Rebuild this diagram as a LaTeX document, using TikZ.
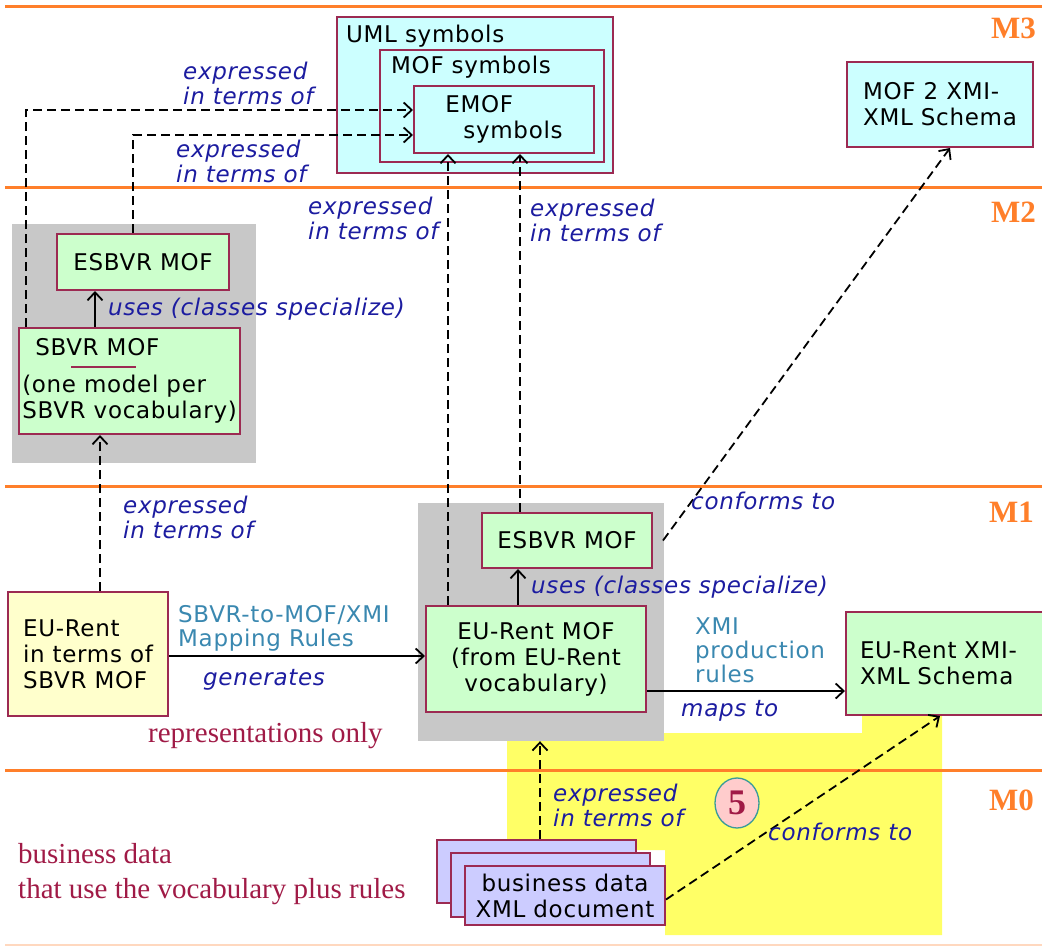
\documentclass[tikz,border=0pt]{standalone}
\usepackage{fontspec}
\setmainfont{DejaVu Sans}[LetterSpace=3]
\newfontfamily\slabfont{Liberation Serif}
\usetikzlibrary{arrows.meta,shapes.geometric}
\definecolor{levelorange}{HTML}{FF7F2A}
\definecolor{boxline}{HTML}{9C2A52}
\definecolor{symcyan}{HTML}{CCFFFF}
\definecolor{mofgreen}{HTML}{CCFFCC}
\definecolor{modelyellow}{HTML}{FFFFCC}
\definecolor{doclilac}{HTML}{CCCCFF}
\definecolor{groupgray}{HTML}{C8C8C8}
\definecolor{zoneyellow}{HTML}{FFFF66}
\definecolor{relblue}{HTML}{1C1CA0}
\definecolor{ruleteal}{HTML}{3A88B0}
\definecolor{notered}{HTML}{A01A46}
\definecolor{fivepink}{HTML}{FFCCCC}
\definecolor{fiveteal}{HTML}{3A9A9A}
\begin{document}
\begin{tikzpicture}[x=1pt,y=-1pt,>={Straight Barb[length=8pt,width=15pt]},
  every node/.style={inner sep=0pt,font=\fontsize{23}{26}\selectfont},
  level/.style={draw=levelorange,line width=3pt},
  levelname/.style={anchor=east,text=levelorange,font=\fontsize{31}{31}\slabfont\bfseries},
  box/.style={draw=boxline,line width=2pt,align=center},
  group/.style={fill=groupgray},
  relation/.style={text=relblue,align=left,font=\fontsize{23}{25}\selectfont\itshape},
  rulename/.style={text=ruleteal,align=left,font=\fontsize{23}{24}\selectfont},
  note/.style={text=notered,align=left,font=\fontsize{29}{35}\slabfont},
  link/.style={->,line width=1.8pt},
  reflink/.style={->,line width=1.8pt,dash pattern=on 9pt off 5pt}]
  \useasboundingbox (0,0) rectangle (1042,948);
  \fill[zoneyellow] (507,733) -- (862,733) -- (862,712) -- (942,712) -- (942,935)
    -- (665,935) -- (665,850) -- (507,850) -- cycle;
  \node[group,minimum width=244,minimum height=239] (grp2) at (134,343.5) {};
  \node[group,minimum width=246,minimum height=238] (grp1) at (541,622) {};
  \draw[level] (5,6) -- (1042,6);
  \draw[level] (5,187) -- (1042,187);
  \draw[level] (5,486) -- (1042,486);
  \draw[level] (5,770) -- (1042,770);
  \draw[levelorange!30,line width=1.5pt] (5,945) -- (1042,945);
  \node[levelname] (m3) at (1036,28) {M3};
  \node[levelname] (m2) at (1036,212) {M2};
  \node[levelname] (m1) at (1034,512) {M1};
  \node[levelname] (m0) at (1034,800) {M0};

  \node[box,fill=symcyan,minimum width=276,minimum height=156] (uml) at (475,95) {};
  \node[anchor=north west] (umlname) at ([shift={(10,8.5)}]uml.north west) {UML symbols};
  \node[box,fill=symcyan,minimum width=224,minimum height=112] (mof) at (492,106) {};
  \node[anchor=north west] (mofname) at ([shift={(12,6.5)}]mof.north west) {MOF symbols};
  \node[box,fill=symcyan,minimum width=180,minimum height=67,align=left] (emof) at (504,119.5)
    {EMOF\\\hspace*{18pt}symbols};
  \node[box,fill=symcyan,minimum width=186,minimum height=85,align=left] (mof2) at (940,104.5)
    {MOF 2 XMI-\\XML Schema};

  \node[box,fill=mofgreen,minimum width=172,minimum height=56] (esbvr2) at (143,262) {ESBVR MOF};
  \node[box,fill=mofgreen,minimum width=221,minimum height=106,align=left] (sbvr) at (129.5,381)
    {\hspace*{13pt}SBVR MOF\\[11pt](one model per\\SBVR vocabulary)};
  \draw[boxline,line width=2pt] ([shift={(53,40)}]sbvr.north west) -- ++(65,0);

  \node[box,fill=mofgreen,minimum width=170,minimum height=55] (esbvr1) at (567,540.5) {ESBVR MOF};
  \node[box,fill=mofgreen,minimum width=220,minimum height=106] (eurent) at (536,659)
    {EU-Rent MOF\\(from EU-Rent\\vocabulary)};
  \node[box,fill=modelyellow,minimum width=160,minimum height=124,align=left] (eusbvr) at (88,654)
    {EU-Rent\\in terms of\\SBVR MOF};
  \node[box,fill=mofgreen,minimum width=200,minimum height=103,text width=172,align=left] (euxmi)
    at (946,663.5) {EU-Rent XMI-\\XML Schema};

  \node[box,fill=doclilac,minimum width=199,minimum height=63] (docback) at (536.5,871.5) {};
  \node[box,fill=doclilac,minimum width=199,minimum height=64] (docmid) at (550.5,885) {};
  \node[box,fill=doclilac,minimum width=200,minimum height=59] (docfront) at (565,895.5)
    {business data\\XML document};
  \node[ellipse,draw=fiveteal,fill=fivepink,line width=1.3pt,minimum width=44,minimum height=50,
    text=notered,font=\fontsize{36}{36}\slabfont\bfseries] (five) at (737,803) {5};

  \draw[reflink] ([shift={(8,0)}]sbvr.north west) |- ([shift={(0,-9.5)}]emof.west);
  \draw[reflink] ([shift={(-10,0)}]esbvr2.north) |- ([shift={(0,15.5)}]emof.west);
  \draw[reflink] ([shift={(-88,0)}]eurent.north) -- ([shift={(-88,0)}]eurent.north |- emof.south);
  \draw[reflink] ([shift={(-47,0)}]esbvr1.north) -- ([shift={(-47,0)}]esbvr1.north |- emof.south);
  \draw[reflink] ([shift={(10,0)}]esbvr1.east) -- ([shift={(10,0)}]mof2.south);
  \draw[link] ([shift={(-34.5,0)}]sbvr.north) -- ([shift={(-34.5,0)}]sbvr.north |- esbvr2.south);
  \draw[link] ([shift={(-18,0)}]eurent.north) -- ([shift={(-18,0)}]eurent.north |- esbvr1.south);
  \draw[reflink] ([shift={(12,0)}]eusbvr.north) -- ([shift={(12,0)}]eusbvr.north |- sbvr.south);
  \draw[link] ([shift={(0,2)}]eusbvr.east) -- ([shift={(0,2)}]eusbvr.east -| eurent.west);
  \draw[link] ([shift={(0,32)}]eurent.east) -- ([shift={(0,32)}]eurent.east -| euxmi.west);
  \draw[reflink] ([shift={(3.5,0)}]docback.north) -- ([shift={(3.5,0)}]docback.north |- grp1.south);
  \draw[reflink] ([shift={(0,4)}]docfront.east) -- ([shift={(-6,0)}]euxmi.south);

  \node[relation,anchor=north west] (rel1) at (183,62) {expressed\\in terms of};
  \node[relation,anchor=north west] (rel2) at (176,140) {expressed\\in terms of};
  \node[relation,anchor=north west] (rel3) at (308,197) {expressed\\in terms of};
  \node[relation,anchor=north west] (rel4) at (530,199) {expressed\\in terms of};
  \node[relation,anchor=north west] (rel5) at (123,496) {expressed\\in terms of};
  \node[relation,anchor=north west] (rel6) at (553,784) {expressed\\in terms of};
  \node[relation,anchor=west] (uses2) at (108,309) {uses (classes specialize)};
  \node[relation,anchor=west] (uses1) at (531,587) {uses (classes specialize)};
  \node[relation,anchor=west] (conf1) at (691,501) {conforms to};
  \node[relation,anchor=west] (conf0) at (768,832) {conforms to};
  \node[relation,anchor=west] (gen) at (203,680) {generates};
  \node[relation,anchor=west] (maps) at (681,711) {maps to};
  \node[rulename,anchor=north west] (maprules) at (178,605) {SBVR-to-MOF/XMI\\Mapping Rules};
  \node[rulename,anchor=north west] (xmirules) at (695,618) {XMI\\production\\rules};
  \node[note,anchor=west] (reponly) at (148,736) {representations only};
  \node[note,anchor=north west] (bizdata) at (18,843) {business data\\that use the vocabulary plus rules};
\end{tikzpicture}
\end{document}
